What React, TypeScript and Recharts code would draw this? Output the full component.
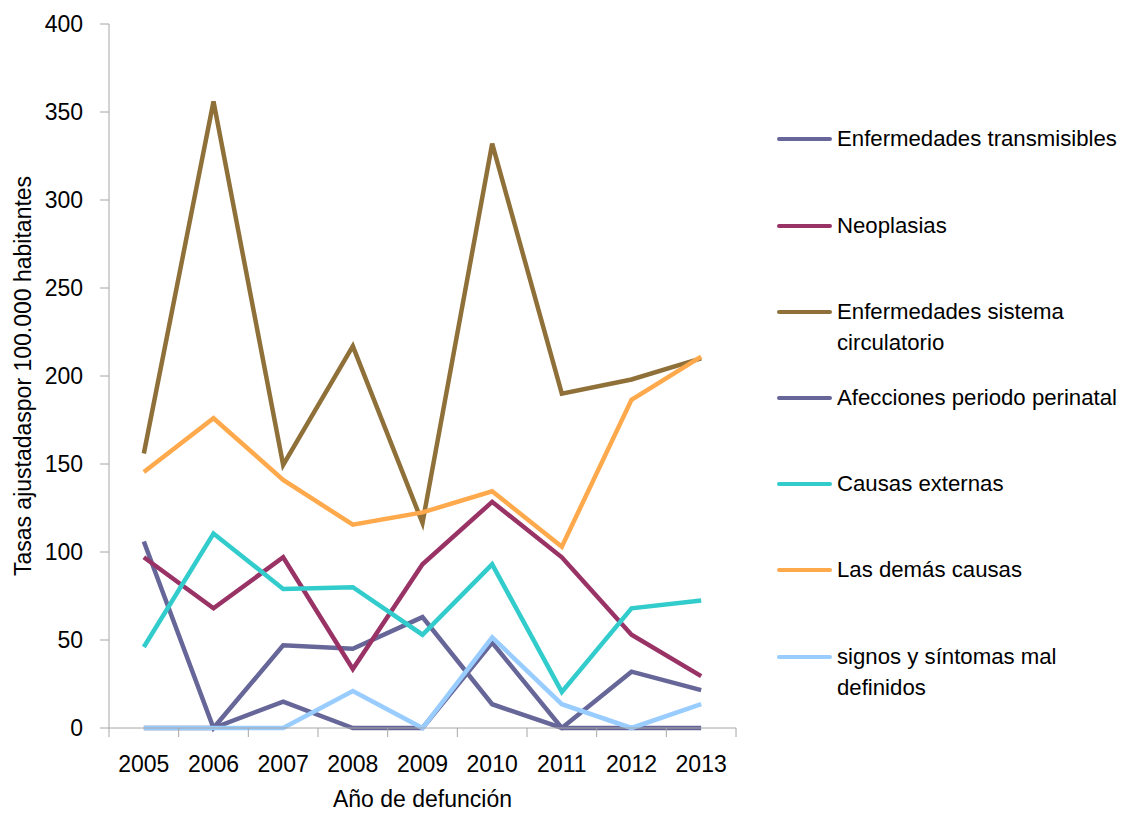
import { LineChart, Line, XAxis, YAxis } from "recharts";

const years = ["2005", "2006", "2007", "2008", "2009", "2010", "2011", "2012", "2013"];

const transmisibles = [106, 0, 47, 45, 63, 13.5, 0, 32, 21.5];
const neoplasias = [97, 68, 97, 33.5, 93, 128.5, 97, 53, 29.5];
const circulatorio = [156, 356, 149.5, 217, 116.5, 332, 190, 198, 210];
const perinatal = [0, 0, 15, 0, 0, 48.5, 0, 0, 0];
const externas = [46, 110.5, 79, 80, 53, 93, 20.5, 68, 72.5];
const demas = [145.5, 176, 141, 115.5, 122.5, 134.5, 103, 186.5, 211];
const signos = [0, 0, 0, 21, 0, 51.5, 13.5, 0, 13.5];

const yTicks = [0, 50, 100, 150, 200, 250, 300, 350, 400];

const series = [
  { key: "transmisibles", name: "Enfermedades transmisibles", color: "#666699", values: transmisibles },
  { key: "neoplasias", name: "Neoplasias", color: "#993366", values: neoplasias },
  { key: "circulatorio", name: "Enfermedades sistema\ncirculatorio", color: "#8f7039", values: circulatorio },
  { key: "perinatal", name: "Afecciones periodo perinatal", color: "#666699", values: perinatal },
  { key: "externas", name: "Causas externas", color: "#33cccc", values: externas },
  { key: "demas", name: "Las demás causas", color: "#ffa94d", values: demas },
  { key: "signos", name: "signos y síntomas mal\ndefinidos", color: "#99ccff", values: signos },
];

const data = years.map((year, i) => {
  const row: Record<string, string | number> = { year };
  series.forEach((s) => {
    row[s.key] = s.values[i];
  });
  return row;
});

const FONT = "'Liberation Sans', Arial, sans-serif";
const FS = 23;
const AXIS = "#a6a6a6";

const CHART_W = 1120;
const CHART_H = 805;
const margin = { top: 16, right: 392, bottom: 0, left: 10 };
const Y_W = 91;
const X_H = 85;
const HALF_BAND = (CHART_W - margin.left - Y_W - margin.right) / years.length / 2;

function YearTick(props: any) {
  const { x, y, payload, index } = props;
  const axisY = y - 28;
  return (
    <g>
      <line x1={x - HALF_BAND} x2={x - HALF_BAND} y1={axisY} y2={axisY + 9} stroke={AXIS} />
      {index === years.length - 1 && (
        <line x1={x + HALF_BAND} x2={x + HALF_BAND} y1={axisY} y2={axisY + 9} stroke={AXIS} />
      )}
      <text x={x} y={y} dy="0.71em" textAnchor="middle" fill="#000" fontSize={FS} fontFamily={FONT}>
        {payload.value}
      </text>
    </g>
  );
}

const legendTop = [131, 218, 304, 390, 476, 562, 649];

function ChartLegend() {
  return (
    <div style={{ position: "absolute", left: 0, top: 0, fontFamily: FONT, fontSize: 22.2, color: "#000" }}>
      {series.map((s, i) => (
        <div key={s.key} style={{ position: "absolute", left: 769, top: legendTop[i] - 16, display: "flex" }}>
          <div
            style={{
              width: 55,
              height: 4,
              borderRadius: 2,
              background: s.color,
              marginTop: 14,
              flexShrink: 0,
            }}
          />
          <div style={{ marginLeft: 5, lineHeight: "31px", whiteSpace: "pre" }}>{s.name}</div>
        </div>
      ))}
    </div>
  );
}

export default function App() {
  return (
    <div style={{ position: "relative", width: CHART_W, height: CHART_H }}>
      <LineChart width={CHART_W} height={CHART_H} data={data} margin={margin}>
        <XAxis
          dataKey="year"
          scale="band"
          height={X_H}
          stroke={AXIS}
          tickLine={false}
          tickSize={9}
          tickMargin={19}
          tick={<YearTick />}
          interval={0}
          label={{
            value: "Año de defunción",
            position: "insideBottom",
            offset: 6,
            fill: "#000",
            fontSize: FS,
            fontFamily: FONT,
          }}
        />
        <YAxis
          domain={[0, 400]}
          ticks={yTicks}
          width={Y_W}
          stroke={AXIS}
          tickSize={9}
          tickMargin={17}
          tick={{ fill: "#000", fontSize: FS, fontFamily: FONT }}
          label={{
            value: "Tasas ajustadaspor 100.000 habitantes",
            angle: -90,
            position: "insideLeft",
            offset: 5,
            fill: "#000",
            fontSize: FS,
            fontFamily: FONT,
            style: { textAnchor: "middle" },
          }}
        />
        {series.map((s) => (
          <Line
            key={s.key}
            dataKey={s.key}
            name={s.name}
            type="linear"
            stroke={s.color}
            strokeWidth={4.5}
            dot={false}
            activeDot={false}
            isAnimationActive={false}
          />
        ))}
      </LineChart>
      <ChartLegend />
    </div>
  );
}
